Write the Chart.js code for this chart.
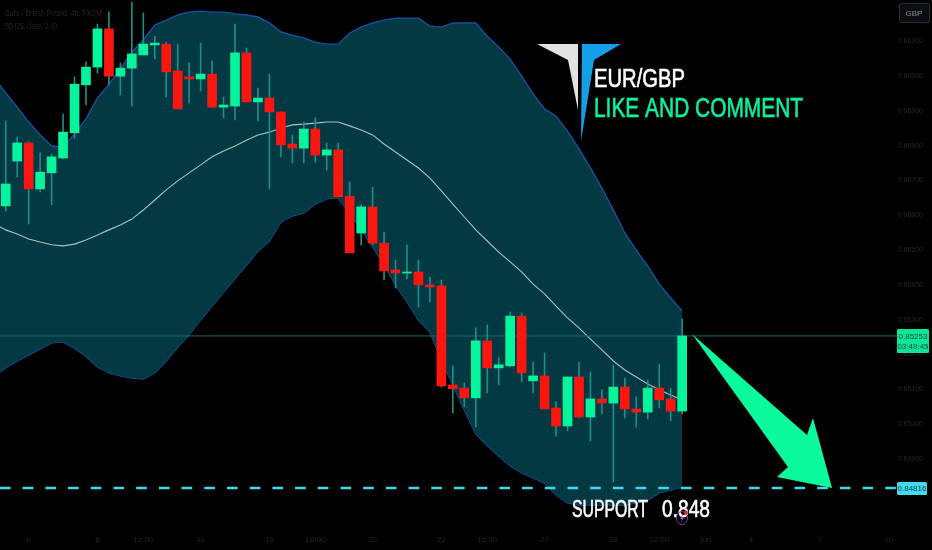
<!DOCTYPE html>
<html>
<head>
<meta charset="utf-8">
<title>EUR/GBP</title>
<script src="https://cdn.jsdelivr.net/npm/chart.js@4"></script>
<style>
    html, body { margin: 0; padding: 0; background: #000; }
    #chart { display: block; }
</style>
</head>
<body>
<canvas id="chart" width="932" height="550"></canvas>
<script>
const opens = [
    0.85627, 0.85756, 0.85808, 0.85676, 0.85722, 0.85765, 0.85837, 0.85975, 0.86026, 0.86136,
    0.86000, 0.86023, 0.86061, 0.86090, 0.86092, 0.86015, 0.85998, 0.85992, 0.86006, 0.85911,
    0.85914, 0.86067, 0.85926, 0.85937, 0.85897, 0.85805, 0.85793, 0.85848, 0.85773, 0.85788,
    0.85655, 0.85549, 0.85624, 0.85520, 0.85443, 0.85434, 0.85437, 0.85400, 0.85397, 0.85112,
    0.85103, 0.85075, 0.85239, 0.85161, 0.85167, 0.85310, 0.85124, 0.85138, 0.85046, 0.84994,
    0.85135, 0.85020, 0.85072, 0.85060, 0.85106, 0.85043, 0.85034, 0.85103, 0.85072, 0.85037
];
const highs = [
    0.85871, 0.85825, 0.85811, 0.85779, 0.85776, 0.85891, 0.85998, 0.86041, 0.86150, 0.86184,
    0.86038, 0.86213, 0.86182, 0.86115, 0.86098, 0.86092, 0.86038, 0.86095, 0.86044, 0.85940,
    0.86150, 0.86081, 0.85966, 0.86006, 0.85897, 0.85831, 0.85868, 0.85880, 0.85808, 0.85808,
    0.85696, 0.85630, 0.85681, 0.85552, 0.85471, 0.85515, 0.85471, 0.85423, 0.85414, 0.85167,
    0.85118, 0.85276, 0.85285, 0.85190, 0.85322, 0.85319, 0.85178, 0.85204, 0.85063, 0.85135,
    0.85178, 0.85149, 0.85098, 0.85170, 0.85132, 0.85078, 0.85126, 0.85172, 0.85103, 0.85302
];
const lows = [
    0.85612, 0.85710, 0.85575, 0.85667, 0.85630, 0.85762, 0.85822, 0.85917, 0.86009, 0.85975,
    0.85946, 0.85914, 0.86061, 0.86049, 0.85940, 0.85906, 0.85923, 0.85957, 0.85911, 0.85880,
    0.85874, 0.85926, 0.85871, 0.85676, 0.85768, 0.85750, 0.85750, 0.85753, 0.85730, 0.85653,
    0.85492, 0.85515, 0.85515, 0.85414, 0.85391, 0.85417, 0.85336, 0.85351, 0.85106, 0.85032,
    0.85049, 0.84991, 0.85089, 0.85112, 0.85164, 0.85121, 0.85089, 0.85043, 0.84965, 0.84980,
    0.85017, 0.84951, 0.85029, 0.84833, 0.85017, 0.84991, 0.85014, 0.85046, 0.85009, 0.85029
];
const closes = [
    0.85690, 0.85808, 0.85676, 0.85724, 0.85768, 0.85839, 0.85977, 0.86026, 0.86136, 0.86000,
    0.86023, 0.86064, 0.86092, 0.86095, 0.86012, 0.85906, 0.85992, 0.86006, 0.85911, 0.85917,
    0.86067, 0.85926, 0.85937, 0.85897, 0.85802, 0.85793, 0.85848, 0.85773, 0.85788, 0.85653,
    0.85492, 0.85624, 0.85520, 0.85440, 0.85434, 0.85437, 0.85400, 0.85394, 0.85109, 0.85101,
    0.85075, 0.85239, 0.85161, 0.85170, 0.85310, 0.85147, 0.85138, 0.85043, 0.84994, 0.85135,
    0.85020, 0.85072, 0.85060, 0.85106, 0.85043, 0.85034, 0.85103, 0.85069, 0.85037, 0.85253
];

// bollinger bands, first value sits one candle before the first visible one
const upperBand = [
    0.85995,
    0.85952, 0.85911, 0.85868, 0.85831, 0.85799, 0.85796, 0.85834, 0.85877, 0.85937, 0.85977,
    0.86021, 0.86069, 0.86104, 0.86147, 0.86161, 0.86176, 0.86184, 0.86187, 0.86184, 0.86184,
    0.86179, 0.86176, 0.86170, 0.86153, 0.86127, 0.86118, 0.86110, 0.86098, 0.86092, 0.86092,
    0.86124, 0.86141, 0.86153, 0.86161, 0.86167, 0.86167, 0.86167, 0.86144, 0.86141, 0.86153,
    0.86153, 0.86153, 0.86115, 0.86084, 0.86049, 0.86000, 0.85949, 0.85906, 0.85885, 0.85842,
    0.85791, 0.85736, 0.85678, 0.85615, 0.85549, 0.85500, 0.85454, 0.85402, 0.85362, 0.85325
];
const midBand = [
    0.85575,
    0.85558, 0.85546, 0.85532, 0.85523, 0.85515, 0.85512, 0.85517, 0.85529, 0.85543, 0.85558,
    0.85572, 0.85589, 0.85615, 0.85644, 0.85673, 0.85699, 0.85722, 0.85745, 0.85768, 0.85785,
    0.85799, 0.85816, 0.85831, 0.85839, 0.85851, 0.85860, 0.85862, 0.85865, 0.85868, 0.85868,
    0.85857, 0.85845, 0.85831, 0.85805, 0.85782, 0.85759, 0.85736, 0.85707, 0.85670, 0.85632,
    0.85595, 0.85558, 0.85526, 0.85494, 0.85466, 0.85437, 0.85402, 0.85374, 0.85339, 0.85305,
    0.85276, 0.85244, 0.85213, 0.85181, 0.85155, 0.85135, 0.85115, 0.85098, 0.85083, 0.85069
];
const lowerBand = [
    0.85138,
    0.85161, 0.85181, 0.85198, 0.85216, 0.85233, 0.85236, 0.85218, 0.85195, 0.85164, 0.85147,
    0.85138, 0.85132, 0.85129, 0.85147, 0.85181, 0.85221, 0.85256, 0.85299, 0.85339, 0.85379,
    0.85417, 0.85457, 0.85497, 0.85526, 0.85581, 0.85598, 0.85607, 0.85632, 0.85647, 0.85650,
    0.85604, 0.85561, 0.85509, 0.85457, 0.85400, 0.85351, 0.85299, 0.85264, 0.85184, 0.85112,
    0.85040, 0.84971, 0.84937, 0.84908, 0.84879, 0.84859, 0.84845, 0.84830, 0.84796, 0.84773,
    0.84767, 0.84767, 0.84767, 0.84767, 0.84767, 0.84773, 0.84781, 0.84802, 0.84810, 0.84819
];

const timeTicks = [2, 8, 12, 17, 23, 27, 32, 38, 42, 47, 53, 57, 61, 65, 71, 77];
const timeLabels = ['6', '8', '12:00', '11', '15', '18:00', '20', '22', '15:00', '27', '29', '12:00', 'Jun', '4', '7', '10'];

const lastPrice = 0.85253;
const supportPrice = 0.84816;
const countdown = '03:49:45';
const lowestPriceLabel = 0.848;
const xMin = -0.5;
const xMax = 77.74;

const GREEN = '#06f49b';
const RED = '#fb1710';
const WICK = '#1d8d88';
const DIM = '#262626';
const NARROW = '"Liberation Sans Narrow", "Liberation Sans", sans-serif';

const candleColors = closes.map((c, i) => (c >= opens[i] ? GREEN : RED));

function bandPoints(values) {
    return values.map((v, i) => ({ x: i - 1, y: v }));
}

function polygon(ctx, points, color) {
    ctx.fillStyle = color;
    ctx.beginPath();
    points.forEach(([x, y], i) => (i ? ctx.lineTo(x, y) : ctx.moveTo(x, y)));
    ctx.closePath();
    ctx.fill();
}

function label(ctx, text, x, y, font, color, maxWidth, align) {
    ctx.font = font;
    ctx.fillStyle = color;
    ctx.textAlign = align || 'left';
    ctx.textBaseline = 'alphabetic';
    if (maxWidth) {
        ctx.fillText(text, x, y, maxWidth);
    } else {
        ctx.fillText(text, x, y);
    }
}

// same as label but a touch heavier, the banner text is fatter than Liberation Narrow
function bannerLabel(ctx, text, x, y, size, color, maxWidth) {
    label(ctx, text, x, y, size + 'px ' + NARROW, color, maxWidth);
    ctx.strokeStyle = color;
    ctx.lineWidth = 0.6;
    ctx.strokeText(text, x, y, maxWidth);
}

// the scales reserve room for half a tick label on each side, we want the plot edge to edge
function noScalePadding(axis) {
    axis.paddingLeft = 0;
    axis.paddingRight = 0;
    axis.paddingTop = 0;
    axis.paddingBottom = 0;
}

// everything the trader drew on top of the chart, plus the axis tags
const overlay = {
    id: 'overlay',
    afterDraw(chart) {
        const ctx = chart.ctx;
        const yScale = chart.scales.y;
        ctx.save();

        // watermark text, top left
        label(ctx, 'Euro / British Pound, 4h, FXCM', 5, 16, '9px ' + NARROW, DIM, 97);
        label(ctx, 'BB (25, close, 2, 0)', 5, 29, '9px ' + NARROW, DIM, 52);

        // logo
        polygon(ctx, [[537, 44], [578, 44], [578, 110], [568, 60]], '#e2e2e2');
        polygon(ctx, [[582, 44], [621, 44], [594, 60], [581, 141]], '#149fe6');
        bannerLabel(ctx, 'EUR/GBP', 594, 87, 26, '#ffffff', 91);
        bannerLabel(ctx, 'LIKE AND COMMENT', 594, 117, 27, '#0cf09f', 209);

        // arrow
        polygon(ctx, [[692, 334], [807, 435], [813, 418], [832, 488], [777, 477], [788, 467]], '#0afa9e');

        // support text and the little bolt badge
        bannerLabel(ctx, 'SUPPORT', 572, 517, 23, '#ffffff', 76);
        bannerLabel(ctx, '0.848', 662, 517, 23, '#ffffff', 48);
        ctx.strokeStyle = '#7d3ea3';
        ctx.lineWidth = 1;
        ctx.beginPath();
        ctx.ellipse(682, 518, 5.5, 6.5, 0, 0, Math.PI * 2);
        ctx.stroke();
        polygon(ctx, [[683, 513], [680, 519], [682, 519], [681, 523], [684, 517], [682, 517]], '#a44fd0');
        ctx.fillStyle = '#e02a2a';
        ctx.beginPath();
        ctx.arc(686, 512.5, 2, 0, Math.PI * 2);
        ctx.fill();

        // currency button
        ctx.fillStyle = '#0c0d11';
        ctx.strokeStyle = '#2a2c33';
        ctx.lineWidth = 1;
        ctx.beginPath();
        ctx.roundRect(899.5, 3.5, 30, 19, 2);
        ctx.fill();
        ctx.stroke();
        label(ctx, 'GBP', 914, 16, '8px "Liberation Sans", sans-serif', '#8c8c8c', 0, 'center');

        // last price tag
        const lastY = yScale.getPixelForValue(lastPrice);
        ctx.fillStyle = '#0fe59a';
        ctx.beginPath();
        ctx.roundRect(897, lastY - 7, 32, 24, 1.5);
        ctx.fill();
        label(ctx, lastPrice.toFixed(5), 913, lastY + 3, '8px ' + NARROW, '#06503a', 0, 'center');
        label(ctx, countdown, 913, lastY + 13, '8px ' + NARROW, '#06503a', 0, 'center');

        // support tag
        const supportY = yScale.getPixelForValue(supportPrice);
        ctx.fillStyle = '#41dcec';
        ctx.beginPath();
        ctx.roundRect(897, supportY - 6, 30, 13, 1.5);
        ctx.fill();
        label(ctx, supportPrice.toFixed(5), 912, supportY + 3.5, '8px ' + NARROW, '#0b3f48', 0, 'center');

        ctx.restore();
    }
};

const ctx = document.getElementById('chart').getContext('2d');
new Chart(ctx, {
    data: {
        datasets: [
            {
                type: 'bar',
                label: 'body',
                data: closes.map((c, i) => ({ x: i, y: [opens[i], c] })),
                backgroundColor: candleColors,
                barThickness: 9,
                grouped: false,
                borderSkipped: false,
                order: 1
            },
            {
                type: 'bar',
                label: 'wick',
                data: highs.map((h, i) => ({ x: i, y: [lows[i], h] })),
                backgroundColor: WICK,
                barThickness: 1,
                grouped: false,
                borderSkipped: false,
                order: 2
            },
            {
                type: 'line',
                label: 'support',
                data: [{ x: xMin, y: supportPrice }, { x: xMax, y: supportPrice }],
                borderColor: '#45d8e8',
                borderWidth: 2.5,
                borderDash: [10.6, 12.1],
                pointRadius: 0,
                order: 0
            },
            {
                type: 'line',
                label: 'last',
                data: [{ x: xMin, y: lastPrice }, { x: xMax, y: lastPrice }],
                borderColor: '#1b6b60',
                borderWidth: 1,
                pointRadius: 0,
                order: 3
            },
            {
                type: 'line',
                label: 'basis',
                data: bandPoints(midBand),
                borderColor: '#a3c4c6',
                borderWidth: 1.1,
                pointRadius: 0,
                tension: 0,
                order: 4
            },
            {
                type: 'line',
                label: 'upper',
                data: bandPoints(upperBand),
                borderColor: '#1e4fa0',
                borderWidth: 1.4,
                backgroundColor: '#023943',
                fill: '+1',
                pointRadius: 0,
                tension: 0,
                order: 5
            },
            {
                type: 'line',
                label: 'lower',
                data: bandPoints(lowerBand),
                borderColor: '#1e4fa0',
                borderWidth: 1.4,
                pointRadius: 0,
                tension: 0,
                order: 5
            }
        ]
    },
    options: {
        responsive: false,
        animation: false,
        devicePixelRatio: 1,
        layout: { padding: { left: 0, top: 0, right: 9, bottom: 0 } },
        plugins: {
            legend: { display: false },
            title: { display: false },
            tooltip: { enabled: false }
        },
        scales: {
            x: {
                type: 'linear',
                offset: false,
                min: xMin,
                max: xMax,
                grid: { display: false, drawTicks: false },
                border: { display: false },
                afterBuildTicks: axis => {
                    axis.ticks = timeTicks.map(v => ({ value: v }));
                },
                afterFit: axis => {
                    axis.height = 20;
                    noScalePadding(axis);
                },
                ticks: {
                    autoSkip: false,
                    maxRotation: 0,
                    padding: 5,
                    color: DIM,
                    font: { family: NARROW, size: 8 },
                    callback: v => timeLabels[timeTicks.indexOf(v)]
                }
            },
            y: {
                type: 'linear',
                position: 'right',
                min: 0.84695,
                max: 0.86219,
                grid: { display: false, drawTicks: false },
                border: { display: false },
                afterFit: axis => {
                    axis.width = 26;
                    noScalePadding(axis);
                },
                ticks: {
                    stepSize: 0.001,
                    includeBounds: false,
                    autoSkip: false,
                    maxTicksLimit: 30,
                    crossAlign: 'far',
                    padding: 0,
                    color: DIM,
                    font: { family: NARROW, size: 7 },
                    callback: v => (v < lowestPriceLabel - 0.0005 ? '' : v.toFixed(5))
                }
            }
        }
    },
    plugins: [overlay]
});
</script>
</body>
</html>
